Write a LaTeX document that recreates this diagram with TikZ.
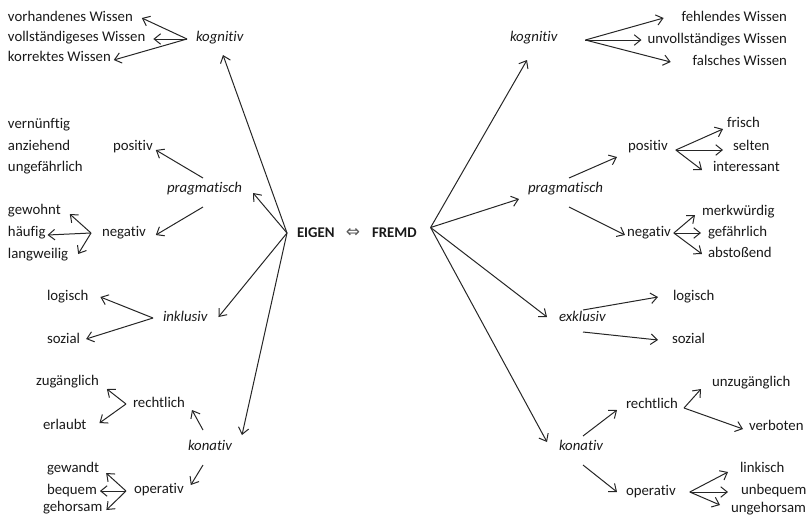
\documentclass[tikz,border=0pt]{standalone}
\usepackage{fontspec}
\setmainfont[Ligatures=NoCommon,RawFeature={-liga;-clig;-dlig}]{Carlito}
\newfontfamily\symfont{DejaVu Sans}
\usetikzlibrary{arrows.meta,calc}
\tikzset{
 lbl/.style={font=\fontsize{14.8}{17}\selectfont, inner sep=0pt, outer sep=0pt, text height=10pt, text depth=3pt, anchor=west, text=black!90},
 rlbl/.style={lbl, anchor=east},
 it/.style={lbl, font=\fontsize{14.8}{17}\selectfont\itshape},
 bf/.style={lbl, font=\fontsize{14.8}{17}\selectfont\bfseries},
 arr/.style={-{Straight Barb[length=6.5pt,width=10.5pt]}, line width=1pt, draw=black!85},
}
\begin{document}
\begin{tikzpicture}[x=1pt,y=-1pt]
\useasboundingbox (0,0) rectangle (808,515);
% ---------- centre ----------
\node[bf] (eigen) at (297,233.5) {EIGEN};
\node[lbl, font=\symfont\fontsize{17}{19}\selectfont, anchor=center, text=black!65, text height=, text depth=] (dbl) at (353,233) {⇔};
\node[bf] (fremd) at (372,233.5) {FREMD};
\coordinate (eA) at ($(eigen.west)+(-10,-0.5)$);
\coordinate (fA) at ($(fremd.east)+(14,-6)$);
% ---------- left ----------
\node[lbl] (vorh) at (8,18) {vorhandenes Wissen};
\node[lbl] (voll) at (8,38) {vollständigeses Wissen};
\node[lbl] (korr) at (8,58) {korrektes Wissen};
\node[it] (kogL) at (196,38) {kognitiv};
\node[lbl] (vern) at (8,125) {vernünftig};
\node[lbl] (anzi) at (8,147) {anziehend};
\node[lbl] (unge) at (8,168) {ungefährlich};
\node[lbl] (posL) at (113,147) {positiv};
\node[it] (pragL) at (167,189) {pragmatisch};
\node[lbl] (negL) at (102,233) {negativ};
\node[lbl] (gewo) at (8,211) {gewohnt};
\node[lbl] (haeu) at (8,233) {häufig};
\node[lbl] (lang) at (8,255) {langweilig};
\node[lbl] (logL) at (47,297) {logisch};
\node[lbl] (sozL) at (47,340) {sozial};
\node[it] (inkl) at (163,318) {inklusiv};
\node[lbl] (zuga) at (36,382) {zugänglich};
\node[lbl] (erla) at (43,426) {erlaubt};
\node[lbl] (rechL) at (133,404) {rechtlich};
\node[it] (konL) at (188,447) {konativ};
\node[lbl] (opL) at (134,490) {operativ};
\node[lbl] (gewa) at (47,469) {gewandt};
\node[lbl] (beqL) at (47,491) {bequem};
\node[lbl] (geho) at (43,508) {gehorsam};
% left arrows
\coordinate (kLo) at ($(kogL.west)+(-9,1)$);
\draw[arr] (kLo) -- ($(vorh.east)+(9,0)$);
\draw[arr] (kLo) -- ($(voll.east)+(8,1)$);
\draw[arr] (kLo) -- ($(korr.east)+(3,2)$);
\draw[arr] (eA) -- ($(kogL.west)+(27,17)$);
\draw[arr] (eA) -- ($(pragL.east)+(11,4)$);
\draw[arr] ($(pragL.west)+(36,-11)$) -- ($(posL.east)+(3,3)$);
\draw[arr] ($(pragL.west)+(36,18)$) -- ($(negL.east)+(10,2)$);
\coordinate (nLo) at ($(negL.west)+(-11,0)$);
\draw[arr] (nLo) -- ($(gewo.east)+(9,3)$);
\draw[arr] (nLo) -- ($(haeu.east)+(2,2)$);
\draw[arr] (nLo) -- ($(lang.east)+(10,-1)$);
\draw[arr] (eA) -- ($(inkl.east)+(11,-1)$);
\coordinate (iLo) at ($(inkl.west)+(-10,0)$);
\draw[arr] (iLo) -- ($(logL.east)+(12,0)$);
\draw[arr] (iLo) -- ($(sozL.east)+(6,-1)$);
\draw[arr] (eA) -- ($(konL.east)+(10,-12)$);
\draw[arr] ($(konL.west)+(15,-17)$) -- ($(rechL.east)+(7,6)$);
\coordinate (rLo) at ($(rechL.west)+(-7,0)$);
\draw[arr] (rLo) -- ($(zuga.east)+(8,7)$);
\draw[arr] (rLo) -- ($(erla.east)+(13,-3)$);
\draw[arr] ($(konL.west)+(15,18)$) -- ($(opL.east)+(7,-5)$);
\coordinate (oLo) at ($(opL.west)+(-8,1)$);
\draw[arr] (oLo) -- ($(gewa.east)+(7,4)$);
\draw[arr] (oLo) -- ($(beqL.east)+(3,0)$);
\draw[arr] (oLo) -- ($(geho.east)+(4,2)$);
% ---------- right ----------
\node[it] (kogR) at (510,38) {kognitiv};
\node[rlbl] (fehl) at (787,18) {fehlendes Wissen};
\node[rlbl] (unvo) at (787,40) {unvollständiges Wissen};
\node[rlbl] (fals) at (787,62) {falsches Wissen};
\node[it] (pragR) at (528,189) {pragmatisch};
\node[lbl] (posR) at (628,147) {positiv};
\node[lbl] (fris) at (727,124) {frisch};
\node[lbl] (selt) at (733,147) {selten};
\node[lbl] (inte) at (713,168) {interessant};
\node[lbl] (negR) at (627,233) {negativ};
\node[lbl] (merk) at (702,212) {merkwürdig};
\node[lbl] (gefa) at (708,233) {gefährlich};
\node[lbl] (abst) at (708,254) {abstoßend};
\node[it] (exkl) at (559,318) {exklusiv};
\node[lbl] (logR) at (673,297) {logisch};
\node[lbl] (sozR) at (672,340) {sozial};
\node[it] (konR) at (559,447) {konativ};
\node[lbl] (rechR) at (626,405) {rechtlich};
\node[lbl] (unzu) at (712,383) {unzugänglich};
\node[lbl] (verb) at (749,427) {verboten};
\node[lbl] (opR) at (626,492) {operativ};
\node[lbl] (link) at (740,469) {linkisch};
\node[lbl] (unbe) at (741,491) {unbequem};
\node[lbl] (ungh) at (731,509) {ungehorsam};
% right arrows
\draw[arr] (fA) -- ($(kogR.west)+(17,22)$);
\coordinate (kRo) at ($(kogR.east)+(28,2)$);
\draw[arr] (kRo) -- ($(fehl.west)+(-18,0)$);
\draw[arr] (kRo) -- ($(unvo.west)+(-6,0)$);
\draw[arr] (kRo) -- ($(fals.west)+(-22,0)$);
\draw[arr] (fA) -- ($(pragR.west)+(-9,10)$);
\draw[arr] ($(pragR.west)+(41,-11)$) -- ($(posR.west)+(-11,10)$);
\coordinate (pRo) at ($(posR.east)+(8,3)$);
\draw[arr] (pRo) -- ($(fris.west)+(-4,5)$);
\draw[arr] (pRo) -- ($(selt.west)+(-10,3)$);
\draw[arr] (pRo) -- ($(inte.west)+(-11,2)$);
\draw[arr] ($(pragR.west)+(41,18)$) -- ($(negR.west)+(-2,2)$);
\coordinate (nRo) at ($(negR.east)+(3,0)$);
\draw[arr] (nRo) -- ($(merk.west)+(-7,3)$);
\draw[arr] (nRo) -- ($(gefa.west)+(-7,0)$);
\draw[arr] (nRo) -- ($(abst.west)+(-6,0)$);
\draw[arr] (fA) -- ($(exkl.west)+(-12,-1)$);
\draw[arr] ($(exkl.west)+(24,-8)$) -- ($(logR.west)+(-15,0)$);
\draw[arr] ($(exkl.west)+(24,14)$) -- ($(sozR.west)+(-14,0)$);
\draw[arr] (fA) -- ($(konR.west)+(-12,-5)$);
\draw[arr] ($(konR.west)+(24,-11)$) -- ($(rechR.west)+(-9,5)$);
\coordinate (rRo) at ($(rechR.east)+(6,3)$);
\draw[arr] (rRo) -- ($(unzu.west)+(-11,6)$);
\draw[arr] (rRo) -- ($(verb.west)+(-6,2)$);
\draw[arr] ($(konR.west)+(24,18)$) -- ($(opR.west)+(-9,0)$);
\coordinate (oRo) at ($(opR.east)+(14,0)$);
\draw[arr] (oRo) -- ($(link.west)+(-12,3)$);
\draw[arr] (oRo) -- ($(unbe.west)+(-13,1)$);
\draw[arr] (oRo) -- ($(ungh.west)+(-11,-4)$);
\end{tikzpicture}
\end{document}
